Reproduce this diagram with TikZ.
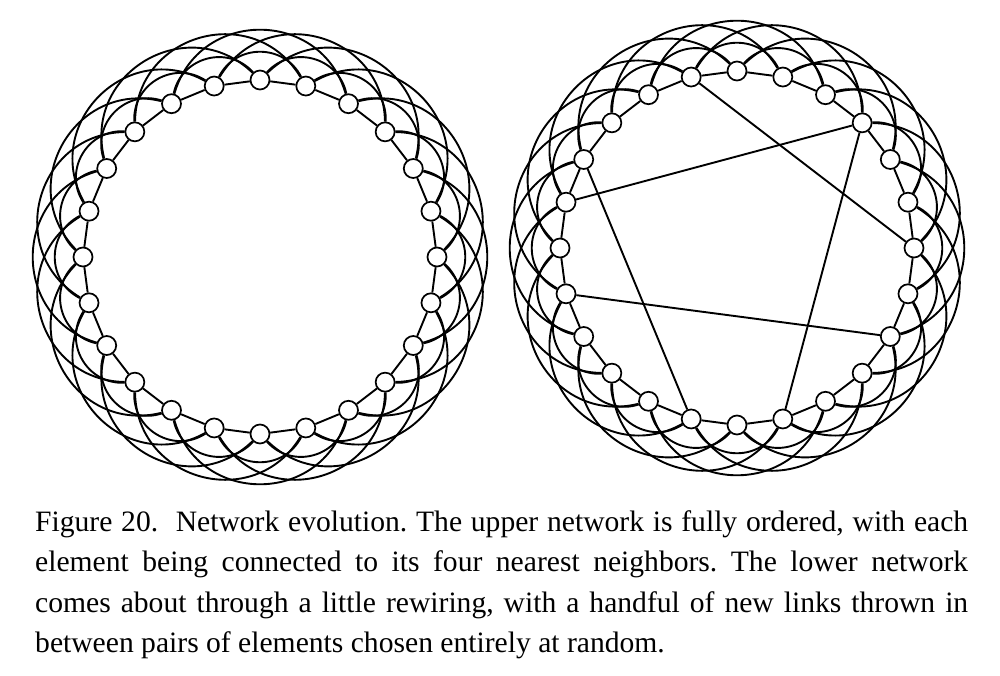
\documentclass[tikz,border=0pt]{standalone}
\usepackage{fontspec}
\setmainfont{Liberation Serif}
\usetikzlibrary{backgrounds}
\begin{document}
\begin{tikzpicture}[x=1pt,y=1pt,
  nd/.style={circle,draw,fill=white,line width=1.7pt,minimum size=19pt,inner sep=0pt},
  link/.style={line width=1.9pt},
  near/.style={link,bend right=63,looseness=1.17},
  far/.style={link,bend right=74,looseness=1.33},
  caption/.style={anchor=north west,text width=933pt,align=justify,inner sep=0pt,
    font=\fontsize{29.6}{40.5}\selectfont\frenchspacing}
]
\useasboundingbox (0,0) rectangle (1000,675);
\foreach \k in {0,...,23}{
  \node[nd] (L\k) at ({260+177*cos(90+15*\k)},{418+177*sin(90+15*\k)}) {};
  \node[nd] (R\k) at ({737+177*cos(90+15*\k)},{427+177*sin(90+15*\k)}) {};
}
\begin{pgfonlayer}{background}
\foreach \k in {0,...,23}{
  \pgfmathtruncatemacro\ka{mod(\k+1,24)}
  \pgfmathtruncatemacro\kb{mod(\k+2,24)}
  \pgfmathtruncatemacro\kd{mod(\k+4,24)}
  \draw[link] (L\k) -- (L\ka);
  \draw[near] (L\k) to (L\kb);
  \draw[far] (L\k) to (L\kd);
  \draw[link] (R\k) -- (R\ka);
  \draw[near] (R\k) to (R\kb);
  \draw[far] (R\k) to (R\kd);
}
\draw[link] (R1) -- (R18);
\draw[link] (R21) -- (R5);
\draw[link] (R21) -- (R13);
\draw[link] (R4) -- (R11);
\draw[link] (R7) -- (R16);
\end{pgfonlayer}
\node[caption] (cap) at (35,165) {Figure 20.\ \ Network evolution. The upper network is fully ordered, with each\linebreak element being connected to its four nearest neighbors. The lower network\linebreak comes about through a little rewiring, with a handful of new links thrown in\linebreak between pairs of elements chosen entirely at random.};
\end{tikzpicture}
\end{document}
